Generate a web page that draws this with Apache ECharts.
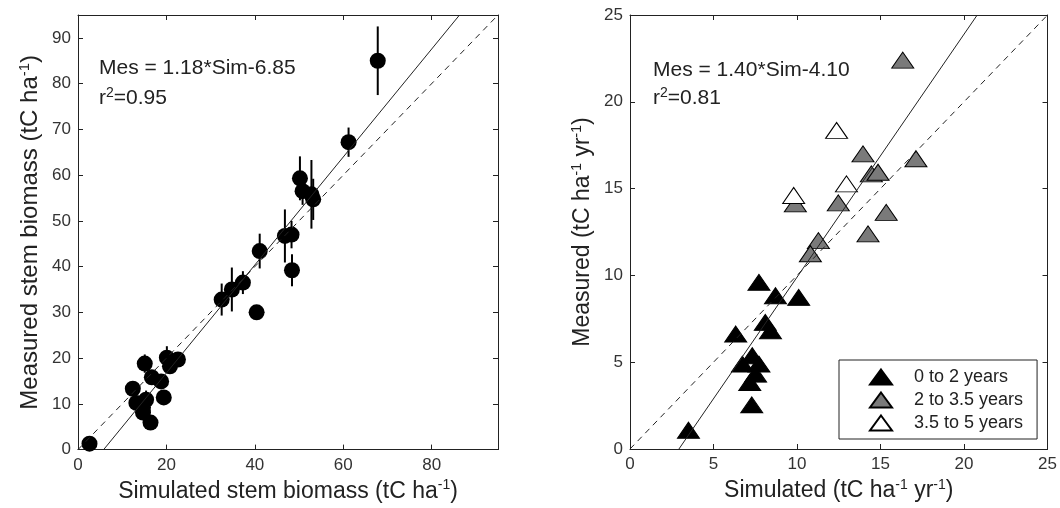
<!DOCTYPE html>
<html><head><meta charset="utf-8">
<script src="https://cdn.jsdelivr.net/npm/echarts@6/dist/echarts.min.js"></script>
<style>html,body{margin:0;padding:0;background:#fff}#c{width:1060px;height:508px}</style>
</head><body><div id="c"></div>
<script>
// Left panel: stem biomass [simulated, measured, error]
const stemPoints = [
  [2.6,1.3,0.8],[12.4,13.3,1.5],[13.2,10.2,1.5],[14.7,9.2,2],[15.4,10.9,2],[14.7,8.1,1.5],
  [16.4,5.9,1],[15.1,18.8,2],[16.7,15.8,1.5],[18.8,14.9,1.5],[19.4,11.4,1],
  [20.1,20.1,2.5],[20.8,18.2,1.5],[22.6,19.7,1.5],
  [32.5,32.8,3.5],[34.8,35.0,4.8],[37.3,36.5,2.5],[40.4,30.0,1],[41.1,43.4,3.8],
  [48.4,39.2,3.5],[46.8,46.7,5.8],[48.3,47.0,3],
  [50.2,59.3,4.8],[50.8,56.5,3],[52.8,55.8,7.5],[53.2,54.7,4.5],
  [61.2,67.2,3.2],[67.8,85.0,7.5]
];
const stemFit = [[5.8,0],[86.3,95]];
const stemOneToOne = [[0,0],[95,95]];

// Right panel: productivity [simulated, measured]
const group0to2 = [
  [3.5,1.08],[7.72,9.6],[8.71,8.83],[10.1,8.73],[6.33,6.62],[8.1,7.29],[8.41,6.81],
  [6.73,4.89],[7.32,5.37],[7.72,4.89],[7.52,4.31],[7.17,3.83],[7.29,2.54]
];
const group2to35 = [
  [16.33,22.4],[13.95,17.0],[17.12,16.72],[14.45,15.85],[14.85,15.94],[15.34,13.63],
  [14.25,12.39],[12.47,14.18],[9.9,14.12],[11.28,12.0],[10.8,11.25]
];
const group35to5 = [[12.37,18.35],[12.96,15.27],[9.8,14.6]];
const prodFit = [[2.93,0],[20.79,25]];
const prodOneToOne = [[0,0],[25,25]];

const seriesNames = ['0 to 2 years','2 to 3.5 years','3.5 to 5 years'];

const FONT = 'Liberation Sans, Arial, sans-serif';
const axisCol = '#222';
const labelCol = '#333';
const TICKFS = 17;

function mkAxis(extra){
  return Object.assign({
    type:'value',
    axisLine:{show:true,onZero:false,lineStyle:{color:axisCol,width:1}},
    axisTick:{show:true,inside:true,length:5,lineStyle:{color:axisCol}},
    splitLine:{show:false},
    axisLabel:{show:true,color:labelCol,fontFamily:FONT,fontSize:TICKFS,showMaxLabel:false,margin:7},
  }, extra);
}
const noLabel = {show:false};
const rich = {
  n:{fontFamily:FONT,fontSize:23,color:'#222'},
  s:{fontFamily:FONT,fontSize:14,color:'#222',padding:[0,0,12,0]}
};
const richY = {
  n:{fontFamily:FONT,fontSize:24,color:'#222'},
  s:{fontFamily:FONT,fontSize:15,color:'#222',padding:[0,0,12,0]}
};
const annRich = {a:{font:'21px Liberation Sans',fill:'#222'},b:{font:'14px Liberation Sans',fill:'#222',padding:[0,0,10,0]}};

const chart = echarts.init(document.getElementById('c'),null,{renderer:'canvas'});
const triSize=[22,16];
const dash=[6,5];
chart.setOption({
  animation:false,
  grid:[
    {left:78,top:15,width:420,height:435},
    {left:630,top:15,width:421,height:434}
  ],
  xAxis:[
    mkAxis({gridIndex:0,min:0,max:95,interval:20,position:'bottom',
      name:'{n|Simulated stem biomass (tC ha}{s|-1}{n|)}',nameLocation:'middle',nameGap:27,
      nameTextStyle:{rich:rich}}),
    mkAxis({gridIndex:0,min:0,max:95,interval:20,position:'top',axisLabel:noLabel}),
    mkAxis({gridIndex:1,min:0,max:25,interval:5,position:'bottom',
      axisLabel:{color:labelCol,fontFamily:FONT,fontSize:TICKFS,showMaxLabel:true,margin:7},
      name:'{n|Simulated (tC ha}{s|-1}{n| yr}{s|-1}{n|)}',nameLocation:'middle',nameGap:27,
      nameTextStyle:{rich:rich}}),
    mkAxis({gridIndex:1,min:0,max:25,interval:5,position:'top',axisLabel:noLabel})
  ],
  yAxis:[
    mkAxis({gridIndex:0,min:0,max:95,interval:10,position:'left',
      name:'{n|Measured stem biomass (tC ha}{s|-1}{n|)}',nameLocation:'middle',nameGap:34,nameRotate:90,
      nameTextStyle:{rich:richY}}),
    mkAxis({gridIndex:0,min:0,max:95,interval:10,position:'right',axisLabel:noLabel}),
    mkAxis({gridIndex:1,min:0,max:25,interval:5,position:'left',
      axisLabel:{color:labelCol,fontFamily:FONT,fontSize:TICKFS,showMaxLabel:true,margin:7},
      name:'{n|Measured (tC ha}{s|-1}{n| yr}{s|-1}{n|)}',nameLocation:'middle',nameGap:34,nameRotate:90,
      nameTextStyle:{rich:rich}}),
    mkAxis({gridIndex:1,min:0,max:25,interval:5,position:'right',axisLabel:noLabel})
  ],
  legend:{
    left:839,top:360,orient:'vertical',itemGap:5,itemWidth:22,itemHeight:15,
    padding:[8,14,7,30],borderColor:'#222',borderWidth:1,backgroundColor:'#fff',
    textStyle:{fontFamily:FONT,fontSize:18,color:'#222',padding:[0,0,0,17]},
    data:seriesNames.map(n=>({name:n,icon:'triangle'}))
  },
  graphic:[
    {type:'text',left:99,top:58,style:{text:'Mes = 1.18*Sim-6.85',font:'21px Liberation Sans',fill:'#222'}},
    {type:'text',left:99,top:86,style:{text:'{a|r}{b|2}{a|=0.95}',rich:annRich}},
    {type:'text',left:653,top:60,style:{text:'Mes = 1.40*Sim-4.10',font:'21px Liberation Sans',fill:'#222'}},
    {type:'text',left:653,top:86,style:{text:'{a|r}{b|2}{a|=0.81}',rich:annRich}}
  ],
  series:[
    {type:'line',xAxisIndex:0,yAxisIndex:0,data:stemOneToOne,symbol:'none',silent:true,
      lineStyle:{color:'#222',width:1,type:dash}},
    {type:'line',xAxisIndex:0,yAxisIndex:0,data:stemFit,symbol:'none',silent:true,
      lineStyle:{color:'#222',width:1}},
    {type:'custom',xAxisIndex:0,yAxisIndex:0,data:stemPoints,
      renderItem:function(params,api){
        const x=api.value(0),y=api.value(1),e=api.value(2);
        const p1=api.coord([x,y-e]),p2=api.coord([x,y+e]);
        return {type:'line',shape:{x1:p1[0],y1:p1[1],x2:p2[0],y2:p2[1]},style:{stroke:'#000',lineWidth:2}};
      }},
    {type:'scatter',xAxisIndex:0,yAxisIndex:0,data:stemPoints.map(p=>[p[0],p[1]]),symbol:'circle',symbolSize:16,
      itemStyle:{color:'#000',opacity:1}},
    {type:'line',xAxisIndex:2,yAxisIndex:2,data:prodOneToOne,symbol:'none',silent:true,
      lineStyle:{color:'#222',width:1,type:dash}},
    {type:'line',xAxisIndex:2,yAxisIndex:2,data:prodFit,symbol:'none',silent:true,
      lineStyle:{color:'#222',width:1}},
    {name:seriesNames[0],type:'scatter',xAxisIndex:2,yAxisIndex:2,data:group0to2,symbol:'triangle',symbolSize:triSize,
      itemStyle:{color:'#000',borderColor:'#000',borderWidth:1,opacity:1}},
    {name:seriesNames[1],type:'scatter',xAxisIndex:2,yAxisIndex:2,data:group2to35,symbol:'triangle',symbolSize:triSize,
      itemStyle:{color:'#7a7a7a',borderColor:'#000',borderWidth:1,opacity:1}},
    {name:seriesNames[2],type:'scatter',xAxisIndex:2,yAxisIndex:2,data:group35to5,symbol:'triangle',symbolSize:triSize,
      itemStyle:{color:'#fff',borderColor:'#000',borderWidth:1,opacity:1}}
  ]
});
</script></body></html>
